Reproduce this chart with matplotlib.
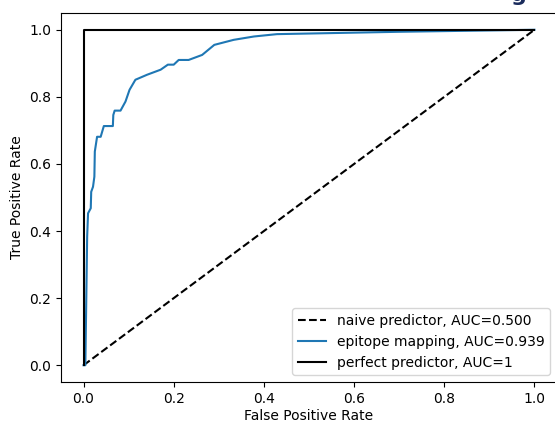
import matplotlib
matplotlib.use("Agg")
import matplotlib.pyplot as plt

# ROC curve
fpr = [0.0, 0.004, 0.006, 0.008, 0.010, 0.016, 0.017, 0.021, 0.024, 0.025, 0.030,
       0.038, 0.045, 0.065, 0.066, 0.069, 0.082, 0.093, 0.102, 0.115, 0.141,
       0.171, 0.187, 0.200, 0.211, 0.233, 0.263, 0.290, 0.333, 0.378, 0.429,
       0.700, 1.0]
tpr = [0.0, 0.0, 0.19, 0.383, 0.453, 0.468, 0.517, 0.532, 0.562, 0.637, 0.681,
       0.681, 0.713, 0.713, 0.746, 0.759, 0.759, 0.786, 0.821, 0.851, 0.866,
       0.881, 0.896, 0.896, 0.910, 0.910, 0.925, 0.955, 0.970, 0.980, 0.987,
       0.994, 1.0]

naive_x = [0, 1]
naive_y = [0, 1]
perfect_x = [0, 0, 1]
perfect_y = [0, 1, 1]

fig = plt.figure(figsize=(5.55, 4.21), dpi=100)
ax = fig.add_axes([61 / 555, 39 / 421, 496 / 555, 369 / 421])

ax.plot(naive_x, naive_y, "k--", label="naive predictor, AUC=0.500")
ax.plot(fpr, tpr, color="#1f77b4", label="epitope mapping, AUC=0.939")
ax.plot(perfect_x, perfect_y, "k-", label="perfect predictor, AUC=1")

ax.set_xlim(-0.05, 1.05)
ax.set_ylim(-0.05, 1.05)
ax.set_xticks([0, 0.2, 0.4, 0.6, 0.8, 1.0])
ax.set_yticks([0, 0.2, 0.4, 0.6, 0.8, 1.0])
ax.set_xlabel("False Positive Rate", labelpad=2)
ax.set_ylabel("True Positive Rate")
ax.legend(loc="lower right")

# bit of a title cut off at the top edge
fig.text(0.935, 1.012, "g", color="#1a2b5c", fontsize=16, fontweight="bold",
         ha="center", va="center")

fig.savefig("out.png", dpi=100)
